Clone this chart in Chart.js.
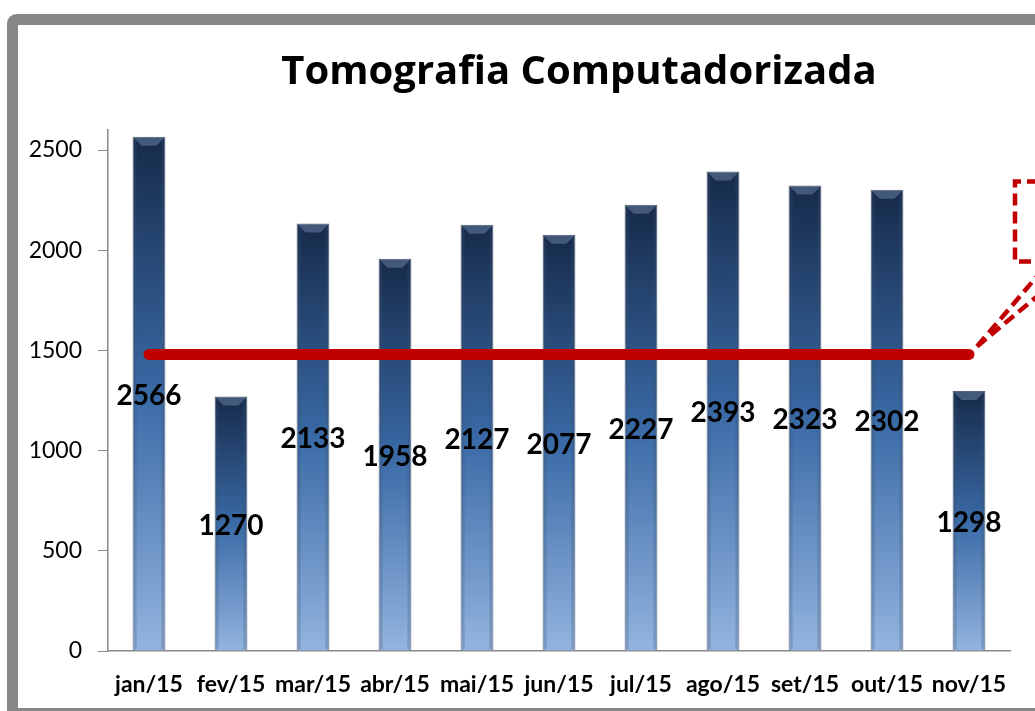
<!DOCTYPE html>
<html><head><meta charset="utf-8">
<script src="https://cdn.jsdelivr.net/npm/chart.js@4"></script>
<style>html,body{margin:0;padding:0;background:#fff;overflow:hidden}#wrap{width:1035px;height:711px;position:relative}</style>
</head><body><div id="wrap"><canvas id="c" width="1035" height="711"></canvas></div>
<script>
const titleText = 'Tomografia Computadorizada';
const months = ['jan/15','fev/15','mar/15','abr/15','mai/15','jun/15','jul/15','ago/15','set/15','out/15','nov/15'];
const exams = [2566,1270,2133,1958,2127,2077,2227,2393,2323,2302,1298];
const targetLine = [1480,1480,1480,1480,1480,1480,1480,1480,1480,1480,1480];
const yTicks = [0,500,1000,1500,2000,2500];
const yMax = 2600;

function barGradient(ctx) {
  const chart = ctx.chart;
  if (!chart.chartArea || ctx.type !== 'data') return '#3a69a5';
  const y = chart.scales.y;
  const top = y.getPixelForValue(ctx.raw);
  const base = y.getPixelForValue(0);
  const g = chart.ctx.createLinearGradient(0, top, 0, base);
  g.addColorStop(0, '#162a4a');
  g.addColorStop(0.5, '#3a6aa6');
  g.addColorStop(1, '#93b4df');
  return g;
}

const framePlugin = {
  id: 'frame',
  afterDraw(chart) {
    const c = chart.ctx;
    c.save();
    c.strokeStyle = '#878787';
    c.lineWidth = 11;
    c.beginPath();
    c.roundRect(12.5, 19.5, 1045, 694, 4);
    c.stroke();
    c.restore();
  }
};

const titlePlugin = {
  id: 'chartTitle',
  afterDraw(chart) {
    const c = chart.ctx;
    c.save();
    c.font = 'bold 40px "Open Sans"';
    c.fillStyle = '#000';
    c.textAlign = 'center';
    c.textBaseline = 'alphabetic';
    c.fillText(titleText, 579, 84);
    c.restore();
  }
};

const bevelPlugin = {
  id: 'bevel',
  afterDatasetDraw(chart, args) {
    if (args.meta.type !== 'bar') return;
    const c = chart.ctx;
    c.save();
    args.meta.data.forEach(el => {
      const w = el.width, l = el.x - w/2, r = el.x + w/2;
      c.fillStyle = 'rgba(150,175,210,0.35)';
      c.beginPath();
      c.moveTo(l+1, el.y+1); c.lineTo(r-1, el.y+1); c.lineTo(r-9, el.y+9); c.lineTo(l+9, el.y+9); c.closePath();
      c.fill();
      c.fillStyle = 'rgba(60,80,110,0.25)';
      c.fillRect(l+1, el.y+1, 3, el.base-el.y-2);
      c.fillRect(r-4, el.y+1, 3, el.base-el.y-2);
    });
    c.restore();
  }
};

const labelPlugin = {
  id: 'barLabels',
  afterDatasetsDraw(chart) {
    const meta = chart.getDatasetMeta(0);
    const c = chart.ctx;
    c.save();
    c.font = 'bold 28px Lato';
    c.fillStyle = '#000';
    c.textAlign = 'center';
    c.textBaseline = 'middle';
    meta.data.forEach((el, i) => {
      c.fillText(String(exams[i]), el.x, (el.y + el.base) / 2 + 2);
    });
    c.restore();
  }
};

const calloutPlugin = {
  id: 'callout',
  afterDatasetsDraw(chart) {
    const meta = chart.getDatasetMeta(1);
    const last = meta.data[meta.data.length - 1];
    const tx = last.x + 8, ty = last.y - 8;
    const c = chart.ctx;
    c.save();
    c.strokeStyle = '#c00000';
    c.lineWidth = 4.5;
    c.setLineDash([12, 6]);
    c.beginPath();
    c.moveTo(tx, ty); c.lineTo(tx + 60, ty - 70);
    c.moveTo(tx, ty); c.lineTo(tx + 60, ty - 50);
    c.stroke();
    c.beginPath();
    c.moveTo(tx + 80, ty - 165);
    c.lineTo(tx + 38, ty - 165);
    c.lineTo(tx + 38, ty - 85);
    c.lineTo(tx + 80, ty - 85);
    c.stroke();
    c.restore();
  }
};

new Chart(document.getElementById('c'), {
  data: {
    labels: months,
    datasets: [
      {
        type: 'bar',
        label: 'Exames',
        data: exams,
        backgroundColor: barGradient,
        borderColor: 'rgba(45,60,85,0.8)',
        borderWidth: 1,
        barPercentage: 0.40,
        categoryPercentage: 1,
        order: 1
      },
      {
        type: 'line',
        label: 'Meta',
        data: targetLine,
        borderColor: '#c00000',
        borderWidth: 11,
        borderCapStyle: 'round',
        pointRadius: 0,
        fill: false,
        order: 0
      }
    ]
  },
  options: {
    responsive: false,
    animation: false,
    devicePixelRatio: 1,
    layout: { padding: { left: 20, right: 25, top: 130, bottom: 0 } },
    plugins: {
      legend: { display: false },
      tooltip: { enabled: false },
      title: { display: false }
    },
    scales: {
      x: {
        grid: { display: true, drawOnChartArea: false, drawTicks: false },
        border: { color: '#8a8a8a', width: 1.5 },
        ticks: { color: '#000', font: { family: 'Lato', size: 23, weight: 'bold' }, padding: 20, maxRotation: 0, autoSkip: false },
        afterFit: s => { s.height = 60; }
      },
      y: {
        min: 0,
        max: yMax,
        afterBuildTicks: s => { s.ticks = yTicks.map(v => ({ value: v })); },
        grid: { display: true, drawOnChartArea: false, drawTicks: true, tickLength: 10, color: '#8a8a8a' },
        border: { color: '#8a8a8a', width: 1.5 },
        ticks: { color: '#000', font: { family: 'Lato', size: 23 }, padding: 16, callback: v => String(v) },
        afterFit: s => { s.width = 88; }
      }
    }
  },
  plugins: [bevelPlugin, labelPlugin, calloutPlugin, titlePlugin, framePlugin]
});
</script></body></html>
